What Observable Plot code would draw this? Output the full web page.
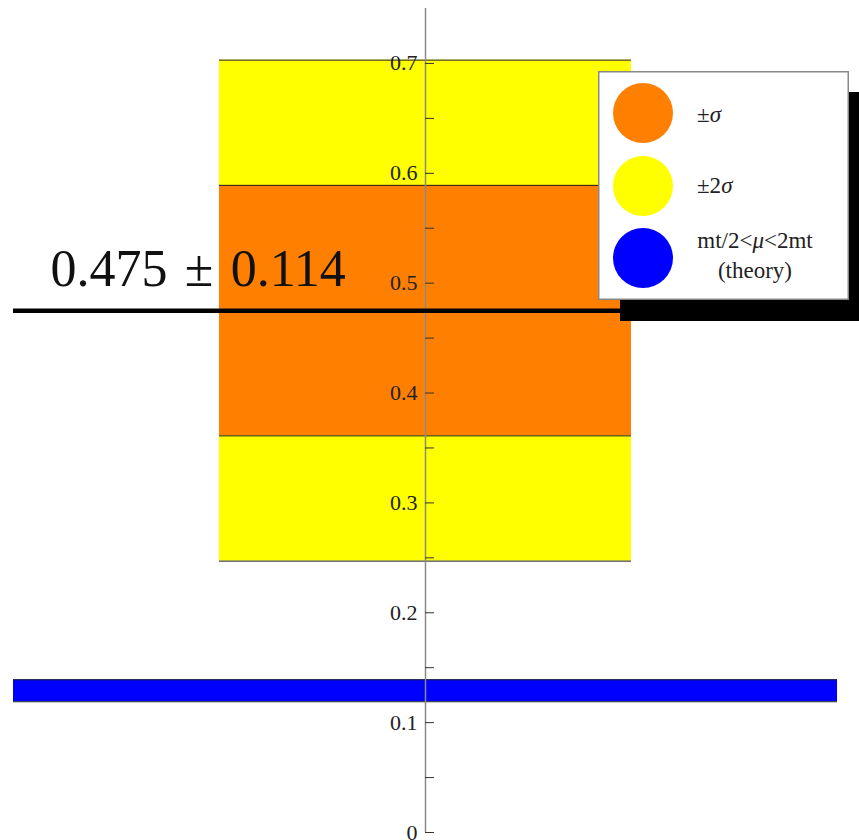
<!DOCTYPE html>
<html>
<head>
<meta charset="utf-8">
<script src="https://cdn.jsdelivr.net/npm/d3@7"></script>
<script src="https://cdn.jsdelivr.net/npm/@observablehq/plot@0.6"></script>
<style>
  html, body { margin: 0; padding: 0; background: #fff; overflow: hidden; }
  #wrap { position: relative; width: 859px; height: 840px; }
  #legend {
    position: absolute; left: 598px; top: 71px; width: 251px; height: 229px;
    background: #fff; box-shadow: 22px 21px 0 0 #000;
  }
</style>
</head>
<body>
<div id="wrap">
  <div id="chart"></div>
  <div id="legend"></div>
</div>
<script>
// Measured value and its uncertainty
const central = 0.475;
const sigma = 0.114;

// Theory band for mt/2 < mu < 2mt
const theoryLow = 0.119;
const theoryHigh = 0.139;

// Axis ticks
const majorTicks = [0, 0.1, 0.2, 0.3, 0.4, 0.5, 0.6, 0.7];
const tickLabels = ["0", "0.1", "0.2", "0.3", "0.4", "0.5", "0.6", "0.7"];
const minorTicks = [0.05, 0.15, 0.25, 0.35, 0.45, 0.55, 0.65];

// Legend entries
const legendLabels = ["±σ", "±2σ", "mt/2<μ<2mt|(theory)"];
const legendColors = ["#FF7F00", "#FFFF00", "#0000FF"];

const W = 859, H = 840;
const mL = 13, mR = 22, mT = 8, mB = 8;
const serif = "'Liberation Serif', 'Times New Roman', serif";
// tick length of 9px expressed in x units
const tickLen = 9 * 2 / (W - mL - mR);

const bands = [
  {lo: central - 2 * sigma, hi: central + 2 * sigma, fill: legendColors[1]},
  {lo: central - sigma, hi: central + sigma, fill: legendColors[0]}
];
const bandEdges = [central - 2 * sigma, central - sigma, central + sigma, central + 2 * sigma];

const chart = Plot.plot({
  width: W, height: H,
  marginLeft: mL, marginRight: mR, marginTop: mT, marginBottom: mB,
  x: {domain: [-1, 1], axis: null},
  y: {domain: [0, 0.75], axis: null},
  style: {background: "#fff", fontFamily: serif},
  marks: [
    Plot.rect(bands, {x1: () => -0.5, x2: () => 0.5, y1: "lo", y2: "hi", fill: d => d.fill}),
    Plot.ruleY(bandEdges, {x1: () => -0.5, x2: () => 0.5, stroke: "#222", strokeWidth: 1}),
    Plot.rect([{lo: theoryLow, hi: theoryHigh}], {x1: () => -1, x2: () => 1, y1: "lo", y2: "hi", fill: legendColors[2]}),
    Plot.ruleY([theoryLow, theoryHigh], {x1: () => -1, x2: () => 1, stroke: "#222", strokeWidth: 1}),
    // vertical axis through x = 0
    Plot.ruleX([0], {y1: () => 0, y2: () => 0.75, stroke: "#8a8a8a", strokeWidth: 1.5}),
    Plot.ruleY(majorTicks.concat(minorTicks), {x1: () => 0, x2: () => tickLen, stroke: "#333", strokeWidth: 1}),
    Plot.text(majorTicks, {
      x: () => 0, y: d => d, text: (d, i) => tickLabels[i],
      textAnchor: "end", dx: -8, fontSize: 22, fill: "#222", fontFamily: serif
    }),
    // central value
    Plot.ruleY([central], {x1: () => -1, x2: () => 1, stroke: "#000", strokeWidth: 4.5}),
    Plot.text([central], {
      x: () => -1, y: d => d,
      text: d => `${d.toFixed(3)}\u200A \u00B1 \u200A${sigma.toFixed(3)}`,
      textAnchor: "start", lineAnchor: "bottom", dx: 37, dy: -25,
      fontSize: 52, fill: "#111", fontFamily: serif
    })
  ]
});
document.getElementById("chart").appendChild(chart);

// Legend box
const lw = 251, lh = 229;
const lsvg = d3.select("#legend").append("svg")
  .attr("width", lw).attr("height", lh)
  .style("display", "block");
lsvg.append("rect")
  .attr("x", 0.75).attr("y", 0.75)
  .attr("width", lw - 1.5).attr("height", lh - 1.5)
  .attr("fill", "#fff").attr("stroke", "#888").attr("stroke-width", 1.5);

const rowY = [42, 115, 187];
const textBase = [51, 122, 177];
legendLabels.forEach((lab, i) => {
  lsvg.append("circle")
    .attr("cx", 45).attr("cy", rowY[i]).attr("r", 30)
    .attr("fill", legendColors[i]);
  const lines = lab.split("|");
  lines.forEach((line, j) => {
    const t = lsvg.append("text")
      .attr("y", textBase[i] + j * 30)
      .attr("font-family", serif).attr("font-size", 23).attr("fill", "#222");
    if (lines.length > 1) t.attr("x", 157).attr("text-anchor", "middle");
    else t.attr("x", 99);
    // Greek letters in italic, as in math notation
    line.split(/([σμ])/).filter(s => s.length).forEach(part => {
      const sp = t.append("tspan").text(part);
      if (part === "σ" || part === "μ") sp.attr("font-style", "italic");
    });
  });
});
</script>
</body>
</html>
